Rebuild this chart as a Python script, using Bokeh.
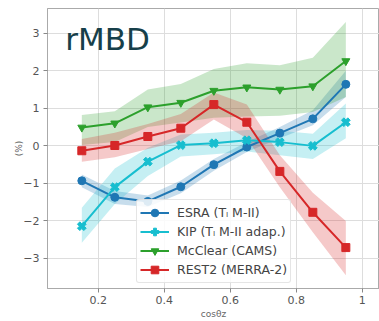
import numpy as np
from bokeh.plotting import figure
from bokeh.models import Range1d, Label, FixedTicker, Legend, LegendItem
from bokeh.embed import file_html
from bokeh.resources import INLINE

x = [0.15, 0.25, 0.35, 0.45, 0.55, 0.65, 0.75, 0.85, 0.95]

esra = [-0.93, -1.37, -1.48, -1.09, -0.50, -0.03, 0.34, 0.72, 1.64]
esra_lo = [-1.10, -1.55, -1.63, -1.26, -0.66, -0.16, 0.20, 0.55, 1.30]
esra_hi = [-0.76, -1.20, -1.32, -0.92, -0.35, 0.10, 0.50, 0.95, 2.00]

kip = [-2.14, -1.10, -0.42, 0.02, 0.07, 0.15, 0.10, 0.00, 0.63]
kip_lo = [-2.58, -1.55, -0.80, -0.28, -0.22, -0.15, -0.25, -0.35, 0.20]
kip_hi = [-1.65, -0.60, -0.05, 0.30, 0.35, 0.42, 0.40, 0.32, 1.13]

mcclear = [0.49, 0.60, 1.03, 1.15, 1.47, 1.56, 1.50, 1.59, 2.26]
mcclear_lo = [0.02, 0.10, 0.50, 0.62, 0.75, 0.78, 0.80, 0.90, 1.30]
mcclear_hi = [0.82, 0.92, 1.50, 1.65, 2.05, 2.20, 2.15, 2.35, 3.30]

rest2 = [-0.13, 0.01, 0.25, 0.47, 1.10, 0.63, -0.68, -1.77, -2.71]
rest2_lo = [-0.42, -0.30, -0.08, 0.12, 0.70, 0.20, -1.10, -2.30, -3.45]
rest2_hi = [0.18, 0.35, 0.58, 0.85, 1.42, 1.10, -0.25, -1.25, -2.00]

labels = ["ESRA (Tₗ M-II)", "KIP (Tₗ M-II adap.)", "McClear (CAMS)", "REST2 (MERRA-2)"]
colors = ["#1f77b4", "#17becf", "#2ca02c", "#d62728"]
markers = ["circle", "plus", "inverted_triangle", "square"]
x_ticks = [0.2, 0.4, 0.6, 0.8, 1.0]
y_ticks = [-3, -2, -1, 0, 1, 2, 3]

p = figure(width=379, height=321, output_backend="svg", toolbar_location=None,
           x_range=Range1d(0.046, 1.052), y_range=Range1d(-3.80, 3.66),
           min_border_left=47, min_border_right=0, min_border_top=8, min_border_bottom=32)
p.background_fill_color = "white"
p.border_fill_color = "white"
p.outline_line_color = "#aaaaaa"
p.outline_line_width = 1

series = [(esra, esra_lo, esra_hi), (kip, kip_lo, kip_hi),
          (mcclear, mcclear_lo, mcclear_hi), (rest2, rest2_lo, rest2_hi)]

for (ys, lo, hi), c in zip(series, colors):
    p.varea(x=x, y1=lo, y2=hi, fill_color=c, fill_alpha=0.25)

items = []
for (ys, lo, hi), c, m, lab in zip(series, colors, markers, labels):
    r1 = p.line(x, ys, line_color=c, line_width=2)
    if m == "plus":
        r2 = p.scatter(x, ys, marker=m, size=9, angle=np.pi / 4, fill_color=c, line_color=c)
    else:
        r2 = p.scatter(x, ys, marker=m, size=8, fill_color=c, line_color=c)
    items.append(LegendItem(label=lab, renderers=[r1, r2]))

legend = Legend(items=items, location=(89, 5))
legend.label_text_font_size = "12.5px"
legend.label_text_color = "#444444"
legend.label_text_font = "DejaVu Sans"
legend.glyph_width = 29
legend.glyph_height = 19
legend.label_height = 19
legend.spacing = 0
legend.padding = 3
legend.margin = 0
legend.label_standoff = 8
legend.border_line_color = "#cccccc"
legend.background_fill_alpha = 0.85
legend.border_radius = 3
p.add_layout(legend, "center")

p.add_layout(Label(x=0.1, y=2.85, text="rMBD", text_font="DejaVu Sans", text_baseline="alphabetic",
                   text_font_size="31px", text_color="#173f4a"))

p.xaxis.ticker = FixedTicker(ticks=x_ticks)
p.yaxis.ticker = FixedTicker(ticks=y_ticks)
p.xaxis.axis_label = "cosθz"
p.yaxis.axis_label = "(%)"
for ax in (p.xaxis, p.yaxis):
    ax.axis_line_color = "#aaaaaa"
    ax.major_tick_line_color = "#888888"
    ax.major_tick_out = 4
    ax.major_tick_in = 0
    ax.minor_tick_line_color = None
    ax.major_label_text_font = "DejaVu Sans"
    ax.major_label_text_font_size = "11px"
    ax.major_label_text_color = "#555555"
    ax.axis_label_text_font = "DejaVu Sans"
    ax.axis_label_text_font_size = "9px"
    ax.axis_label_text_font_style = "normal"
    ax.axis_label_text_color = "#666666"
p.xaxis.major_label_standoff = 3
p.xaxis.axis_label_standoff = 2
p.yaxis.major_label_standoff = 4
p.yaxis.axis_label_standoff = -4
p.xgrid.grid_line_color = "#dddddd"
p.ygrid.grid_line_color = "#dddddd"

open("out.html", "w").write(file_html(p, INLINE))
